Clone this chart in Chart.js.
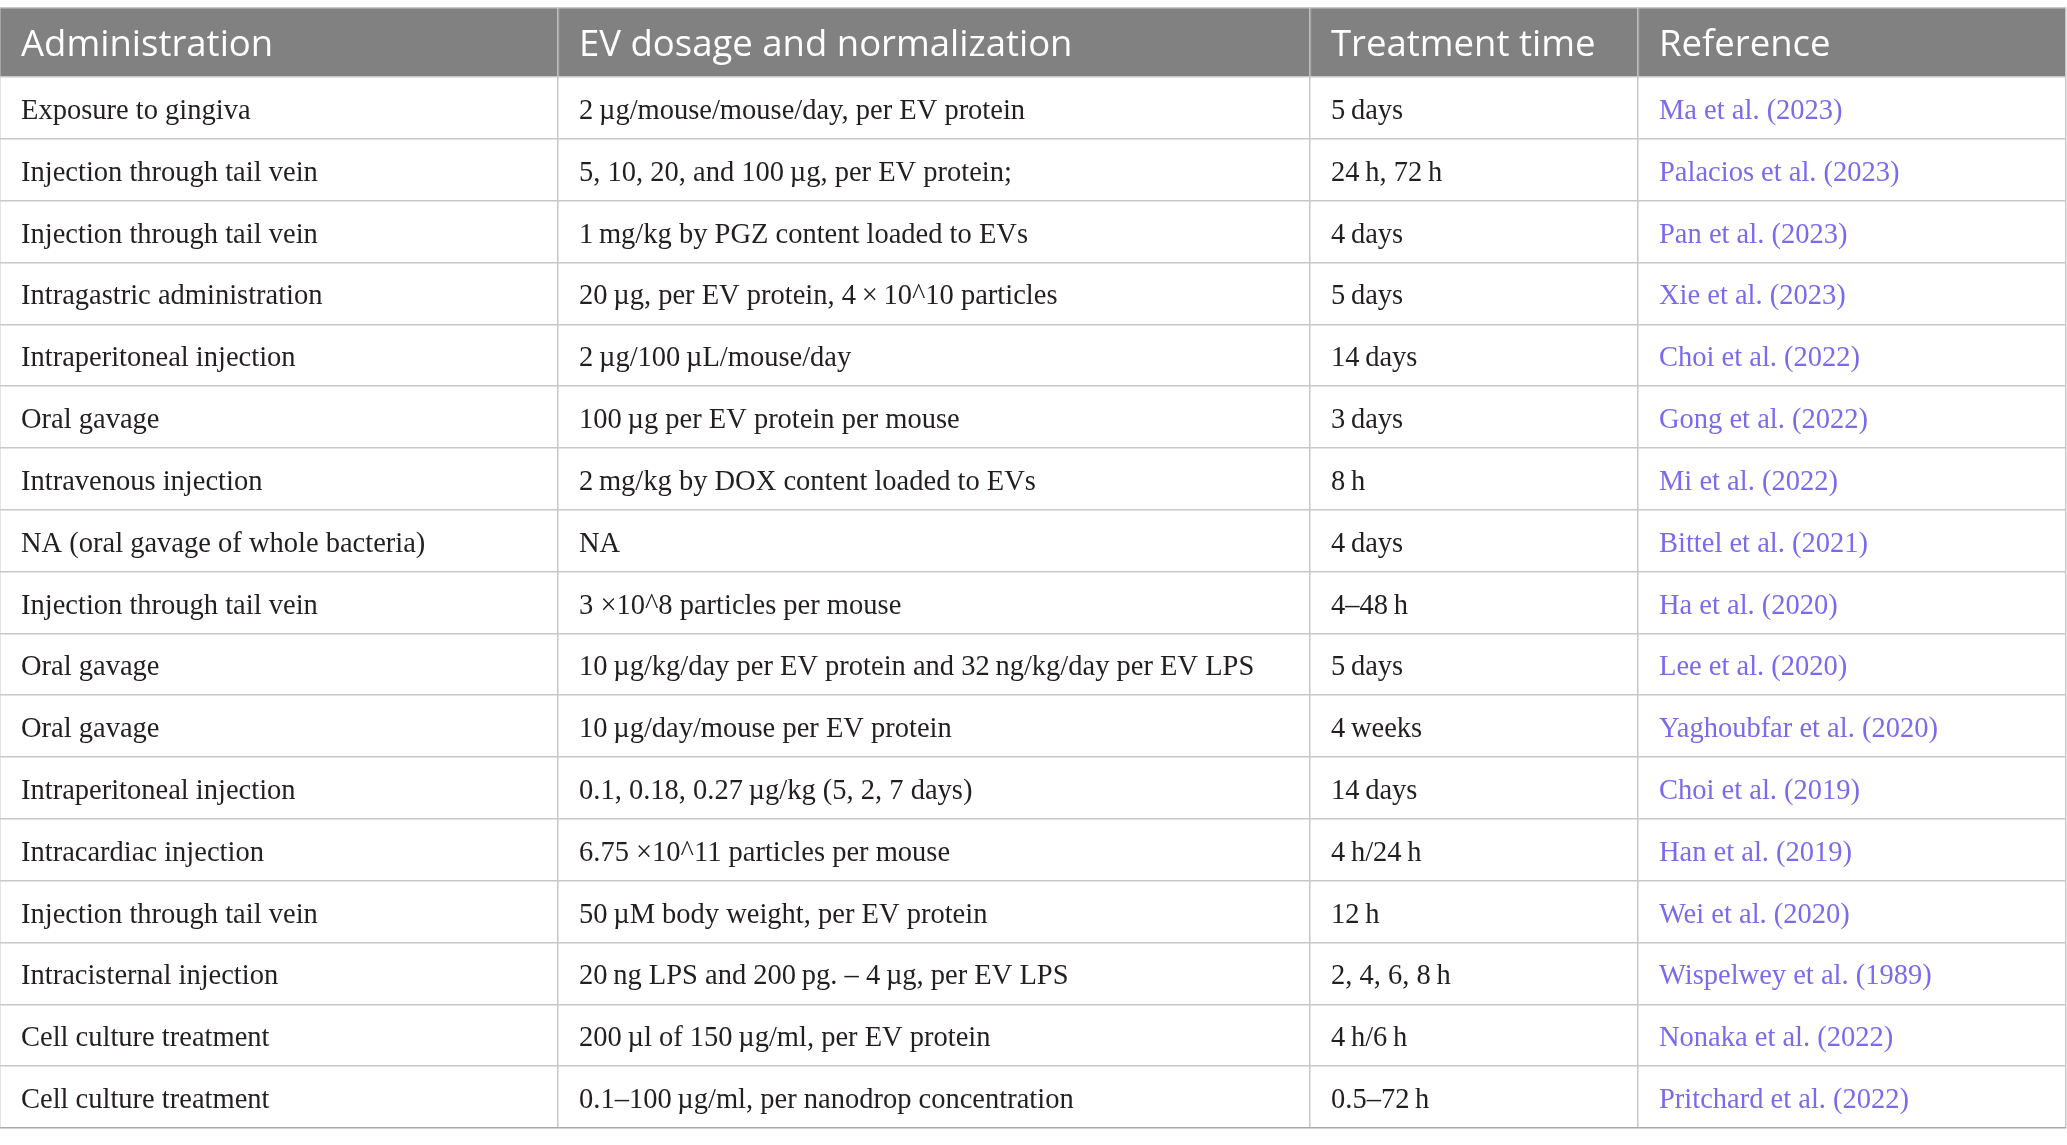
<!DOCTYPE html>
<html>
<head>
<meta charset="utf-8">
<script src="https://cdn.jsdelivr.net/npm/chart.js@4.4.1/dist/chart.umd.min.js"></script>
<style>
  html, body { margin: 0; padding: 0; background: #ffffff; }
  #wrap { width: 2067px; height: 1145px; }
</style>
</head>
<body>
<div id="wrap"><canvas id="c" width="2067" height="1145"></canvas></div>
<script>
// ---- data ----
const headers = ["Administration", "EV dosage and normalization", "Treatment time", "Reference"];

const administration = [
  "Exposure to gingiva",
  "Injection through tail vein",
  "Injection through tail vein",
  "Intragastric administration",
  "Intraperitoneal injection",
  "Oral gavage",
  "Intravenous injection",
  "NA (oral gavage of whole bacteria)",
  "Injection through tail vein",
  "Oral gavage",
  "Oral gavage",
  "Intraperitoneal injection",
  "Intracardiac injection",
  "Injection through tail vein",
  "Intracisternal injection",
  "Cell culture treatment",
  "Cell culture treatment"
];

const dosage = [
  "2\u2009µg/mouse/mouse/day, per EV protein",
  "5, 10, 20, and 100\u2009µg, per EV protein;",
  "1\u2009mg/kg by PGZ content loaded to EVs",
  "20\u2009µg, per EV protein, 4\u2009×\u200910^10 particles",
  "2\u2009µg/100\u2009µL/mouse/day",
  "100\u2009µg per EV protein per mouse",
  "2\u2009mg/kg by DOX content loaded to EVs",
  "NA",
  "3 ×10^8 particles per mouse",
  "10\u2009µg/kg/day per EV protein and 32\u2009ng/kg/day per EV LPS",
  "10\u2009µg/day/mouse per EV protein",
  "0.1, 0.18, 0.27\u2009µg/kg (5, 2, 7 days)",
  "6.75 ×10^11 particles per mouse",
  "50\u2009µM body weight, per EV protein",
  "20\u2009ng LPS and 200\u2009pg. – 4\u2009µg, per EV LPS",
  "200\u2009µl of 150\u2009µg/ml, per EV protein",
  "0.1–100\u2009µg/ml, per nanodrop concentration"
];

const treatmentTime = [
  "5\u2009days", "24\u2009h, 72\u2009h", "4\u2009days", "5\u2009days", "14\u2009days", "3\u2009days",
  "8\u2009h", "4\u2009days", "4–48\u2009h", "5\u2009days", "4\u2009weeks", "14\u2009days",
  "4\u2009h/24\u2009h", "12\u2009h", "2, 4, 6, 8\u2009h", "4\u2009h/6\u2009h", "0.5–72\u2009h"
];

const references = [
  "Ma et al. (2023)", "Palacios et al. (2023)", "Pan et al. (2023)", "Xie et al. (2023)",
  "Choi et al. (2022)", "Gong et al. (2022)", "Mi et al. (2022)", "Bittel et al. (2021)",
  "Ha et al. (2020)", "Lee et al. (2020)", "Yaghoubfar et al. (2020)", "Choi et al. (2019)",
  "Han et al. (2019)", "Wei et al. (2020)", "Wispelwey et al. (1989)", "Nonaka et al. (2022)",
  "Pritchard et al. (2022)"
];

// ---- layout (not data) ----
const columnEdges = [0, 558, 1310, 1638, 2066];   // x-scale units
const HEADER_UNITS = 69 / 61.82;                   // header row height in body-row units
const N_ROWS = administration.length;
const columns = [administration, dosage, treatmentTime, references];
const rowEdges = [0];
for (let i = 0; i <= N_ROWS; i++) rowEdges.push(HEADER_UNITS + i);

const tablePlugin = {
  id: 'tablePlugin',
  beforeDraw(chart) {
    const { ctx, scales: { x, y } } = chart;
    const x0 = x.getPixelForValue(columnEdges[0]);
    const x1 = x.getPixelForValue(columnEdges[columnEdges.length - 1]);
    const y0 = y.getPixelForValue(0);
    const y1 = y.getPixelForValue(HEADER_UNITS);
    ctx.save();
    ctx.fillStyle = '#ffffff';
    ctx.fillRect(0, 0, chart.width, chart.height);
    ctx.fillStyle = '#808180';
    ctx.fillRect(x0, y0, x1 - x0, y1 - y0);
    ctx.restore();
  },
  afterDraw(chart) {
    const { ctx, scales: { x, y } } = chart;
    ctx.save();
    // header separators
    const hy0 = y.getPixelForValue(0), hy1 = y.getPixelForValue(HEADER_UNITS);
    ctx.strokeStyle = '#a4a4a4';
    ctx.lineWidth = 1.5;
    for (let k = 1; k < columnEdges.length - 1; k++) {
      const px = Math.round(x.getPixelForValue(columnEdges[k])) + 0.5;
      ctx.beginPath(); ctx.moveTo(px, hy0 + 1); ctx.lineTo(px, hy1 - 1); ctx.stroke();
    }
    // header text
    ctx.textBaseline = 'alphabetic';
    ctx.textAlign = 'left';
    ctx.font = '36.5px "Open Sans"';
    ctx.fillStyle = '#ffffff';
    const hc = y.getPixelForValue(HEADER_UNITS / 2);
    headers.forEach((h, k) => {
      ctx.fillText(h, x.getPixelForValue(columnEdges[k]) + 21, hc + 13);
    });
    // body text
    ctx.font = '28.5px "Liberation Serif"';
    columns.forEach((col, k) => {
      ctx.fillStyle = (k === 3) ? '#7a6bee' : '#231f20';
      col.forEach((txt, i) => {
        const cy = y.getPixelForValue(HEADER_UNITS + i + 0.5);
        ctx.fillText(txt, x.getPixelForValue(columnEdges[k]) + 21, cy + 11);
      });
    });
    ctx.restore();
  }
};

new Chart(document.getElementById('c'), {
  type: 'scatter',
  data: { datasets: [{ data: [], pointRadius: 0 }] },
  options: {
    responsive: false,
    animation: false,
    devicePixelRatio: 1,
    layout: { padding: { top: 8, bottom: 17, left: 0, right: 1 } },
    plugins: { legend: { display: false }, tooltip: { enabled: false }, title: { display: false } },
    scales: {
      x: {
        type: 'linear',
        min: columnEdges[0],
        max: columnEdges[columnEdges.length - 1],
        afterBuildTicks: (s) => { s.ticks = columnEdges.map(v => ({ value: v })); },
        ticks: { display: false },
        border: { display: false },
        grid: { color: '#c8c8c8', lineWidth: 1.5, drawTicks: false }
      },
      y: {
        type: 'linear',
        reverse: true,
        min: 0,
        max: HEADER_UNITS + N_ROWS,
        afterBuildTicks: (s) => { s.ticks = rowEdges.map(v => ({ value: v })); },
        ticks: { display: false },
        border: { display: false },
        grid: {
          color: (c) => (c.tick && Math.abs(c.tick.value - (HEADER_UNITS + N_ROWS)) < 1e-6) ? '#a8a8a8' : '#c8c8c8',
          lineWidth: 1.5,
          drawTicks: false
        }
      }
    }
  },
  plugins: [tablePlugin]
});
</script>
</body>
</html>
